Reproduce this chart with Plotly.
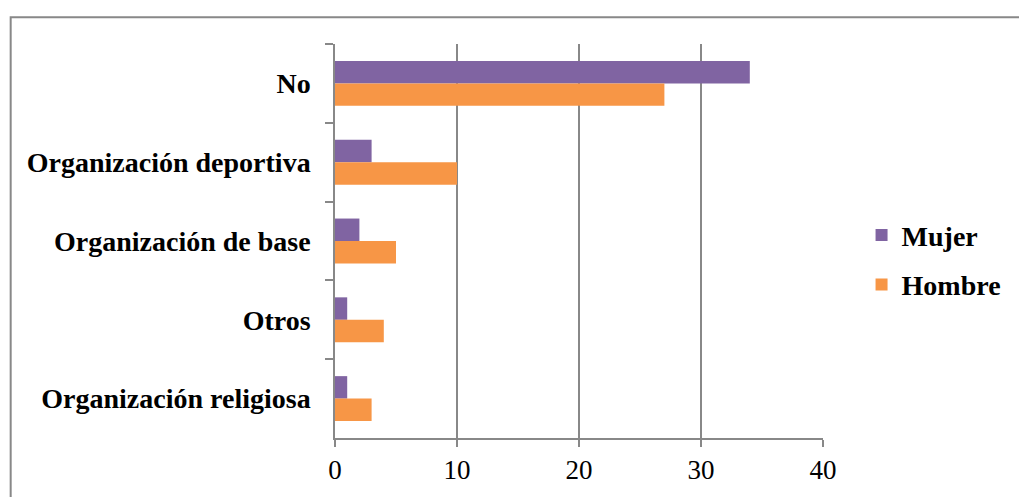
import plotly.graph_objects as go

# Survey responses: participation in organizations, by sex
categorias = ["No", "Organización deportiva", "Organización de base", "Otros", "Organización religiosa"]
mujer = [34, 3, 2, 1, 1]
hombre = [27, 10, 5, 4, 3]
ticks_x = [0, 10, 20, 30, 40]

COLOR_MUJER = "#8064A2"
COLOR_HOMBRE = "#F79646"
GRIS = "#888888"
FUENTE = "Liberation Serif, Times New Roman, serif"

fig = go.Figure()
fig.add_trace(go.Bar(
    y=categorias, x=mujer, name="Mujer", orientation="h",
    marker=dict(color=COLOR_MUJER, line=dict(width=0)),
    legendgroup="m",
))
fig.add_trace(go.Bar(
    y=categorias, x=hombre, name="Hombre", orientation="h",
    marker=dict(color=COLOR_HOMBRE, line=dict(width=0)),
    legendgroup="h",
))

fig.update_layout(
    width=1019, height=497,
    margin=dict(l=335, r=195, t=44, b=56),
    paper_bgcolor="white", plot_bgcolor="white",
    barmode="group", bargap=0.43, bargroupgap=0,
    font=dict(family=FUENTE, size=27, color="black"),
    legend=dict(
        x=1.079, xanchor="left", y=0.452, yanchor="middle",
        traceorder="grouped", tracegroupgap=10,
        font=dict(family=FUENTE, size=28, color="black", weight="bold"),
        bgcolor="rgba(0,0,0,0)",
    ),
    xaxis=dict(
        range=[0, 40], tickvals=ticks_x, ticktext=[str(v) for v in ticks_x],
        showgrid=True, gridcolor=GRIS, gridwidth=1.5,
        showline=True, linecolor=GRIS, linewidth=1.5,
        ticks="outside", ticklen=7, tickcolor=GRIS, tickwidth=1.5,
        tickfont=dict(family=FUENTE, size=27, color="black"),
        zeroline=False, fixedrange=True,
    ),
    yaxis=dict(
        type="category", autorange="reversed",
        tickson="boundaries",
        showgrid=False, showline=True, linecolor=GRIS, linewidth=1.5,
        ticks="outside", ticklen=8, tickcolor=GRIS, tickwidth=1.5,
        ticklabelstandoff=17,
        tickfont=dict(family=FUENTE, size=28, color="black", weight="bold"),
        fixedrange=True,
    ),
    shapes=[dict(
        type="rect", xref="paper", yref="paper",
        x0=-0.6646, x1=1.6, y0=-0.5, y1=1.068,
        line=dict(color=GRIS, width=2), layer="below",
    )],
)

fig.write_html("out.html")
